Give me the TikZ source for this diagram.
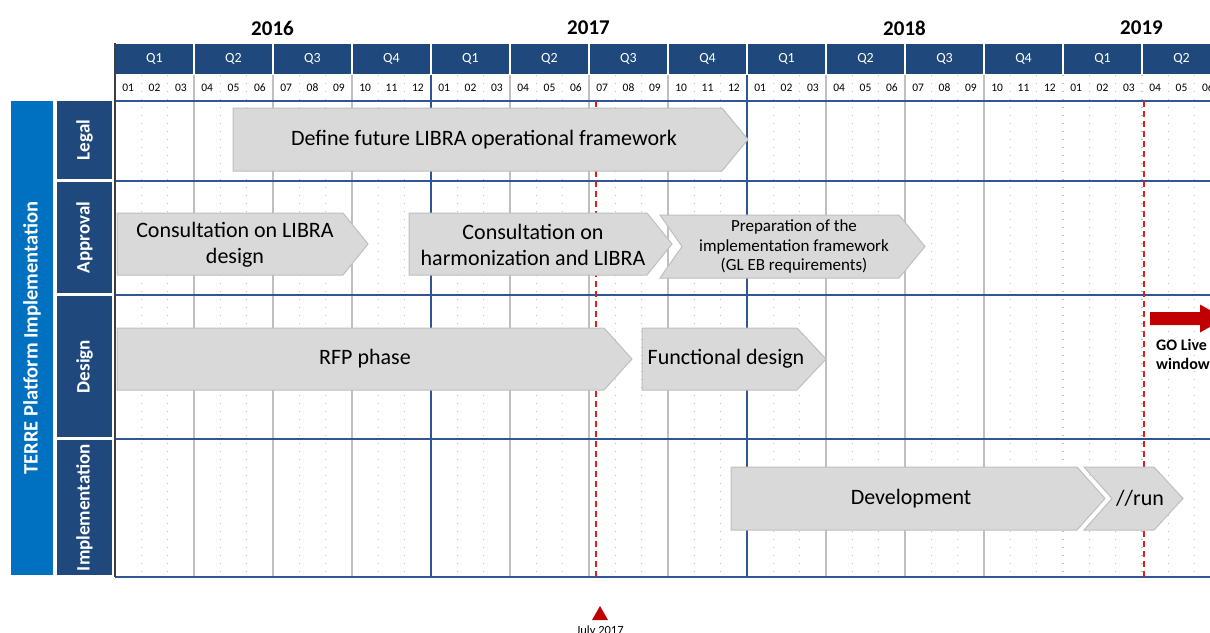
\documentclass[tikz,border=0pt]{standalone}
\usepackage{fontspec}
\setmainfont{Carlito}
\definecolor{hdrblue}{RGB}{31,73,125}
\definecolor{lineblue}{RGB}{47,85,151}
\definecolor{sideblue}{RGB}{0,112,192}
\definecolor{phasegray}{RGB}{217,217,217}
\definecolor{phaseedge}{RGB}{191,191,191}
\definecolor{gridgray}{RGB}{191,191,191}
\definecolor{golive}{RGB}{192,0,0}
\definecolor{markred}{RGB}{222,30,30}

\begin{document}
\begin{tikzpicture}[x=1pt,y=-1pt,
  year/.style={inner sep=0pt,font=\fontsize{21}{25}\selectfont\bfseries},
  quarter/.style={fill=hdrblue,draw=white,line width=1.5pt,text=white,minimum width=79pt,minimum height=32pt,inner sep=0pt,font=\fontsize{14}{16}\selectfont},
  month/.style={minimum width=26.3pt,minimum height=26pt,inner sep=0pt,font=\fontsize{11.5}{13}\selectfont},
  lane/.style={fill=hdrblue,text=white,rotate=90,minimum height=55pt,inner sep=0pt,font=\fontsize{19}{22}\selectfont\bfseries},
  phase/.style={fill=phasegray,draw=phaseedge,line width=1pt},
  phasetext/.style={align=center,inner sep=0pt,font=\fontsize{22}{26}\selectfont},
  monthline/.style={gridgray,line width=1.2pt,dash pattern=on 1.2pt off 6.8pt},
  qline/.style={gridgray,line width=1.5pt},
  rowline/.style={lineblue,line width=2pt},
  marker/.style={markred,line width=1.5pt,dash pattern=on 6pt off 4pt}]
\useasboundingbox (0,0) rectangle (1210,632);

% years and quarters
\node[year] (y2016) at (272.5,28) {2016};
\node[year] (y2017) at (588.5,28) {2017};
\node[year] (y2018) at (904.5,28) {2018};
\node[year] (y2019) at (1141.5,28) {2019};
\foreach \q [count=\i from 0] in {Q1,Q2,Q3,Q4,Q1,Q2,Q3,Q4,Q1,Q2,Q3,Q4,Q1,Q2}
  \node[quarter] (q\i) at ({115+79*\i+39.5},59) {\q};
\foreach \m [evaluate=\m as \n using {int(mod(\m,12)+1)}] in {0,...,41}
  \node[month] (m\m) at ({115+79/3*(\m+0.5)},88) {\ifnum\n<10 0\fi\n};

% grid
\foreach \i in {0,...,13}
  \foreach \k in {1,2}
    \draw[monthline] ({115+79*\i+79/3*\k},75) -- ({115+79*\i+79/3*\k},577);
\foreach \i in {12,13}
  \draw[monthline] ({115+79*\i},75) -- ({115+79*\i},577);
\foreach \i in {1,2,3,5,6,7,9,10,11}
  \draw[qline] ({115+79*\i},75) -- ({115+79*\i},577);
\foreach \i in {4,8}
  \draw[rowline] ({115+79*\i},75) -- ({115+79*\i},577);
\foreach \y in {101,181,295,439,577}
  \draw[rowline] (115,\y) -- (1210,\y);
\draw[darkgray,line width=1.5pt] (115,43) -- (115,577);

% milestones
\draw[marker] (596,101) -- (596,577);
\draw[marker] (1144,101) -- (1144,577);

% Legal
\draw[phase] (233,108) -- (722,108) -- (748,139.5) -- (722,171) -- (233,171) -- cycle;
\node[phasetext] (libra) at (484,139.5) {Define future LIBRA operational framework};
% Approval
\draw[phase] (117,213) -- (343,213) -- (368,244) -- (343,275) -- (117,275) -- cycle;
\node[phasetext] (consult) at (235,245) {Consultation on LIBRA\\design};
\draw[phase] (409,213) -- (647,213) -- (672,244) -- (647,275) -- (409,275) -- cycle;
\node[phasetext] (harmon) at (533,245) {Consultation on\\harmonization and LIBRA};
\draw[phase] (660,215) -- (899,215) -- (925,246.5) -- (899,278) -- (660,278) -- (682,246.5) -- cycle;
\node[phasetext,font=\fontsize{17}{19.5}\selectfont] (prep) at (794,246.5) {Preparation of the\\implementation framework\\(GL EB requirements)};
% Design
\draw[phase] (117,328) -- (604,328) -- (632,359) -- (604,390) -- (117,390) -- cycle;
\node[phasetext] (rfp) at (365,359) {RFP phase};
\draw[phase] (642,328) -- (797,328) -- (826,359) -- (797,390) -- (642,390) -- cycle;
\node[phasetext] (func) at (726,359) {Functional design};
% Implementation
\draw[phase] (731,467) -- (1077,467) -- (1105,498.5) -- (1077,530) -- (731,530) -- cycle;
\node[phasetext] (dev) at (911,498.5) {Development};
\draw[phase] (1084,467) -- (1154,467) -- (1183,498.5) -- (1154,530) -- (1084,530) -- (1112,498.5) -- cycle;
\node[phasetext] (run) at (1140,498.5) {//run};

% lanes
\node[fill=sideblue,text=white,rotate=90,minimum width=474pt,minimum height=42pt,inner sep=0pt,font=\fontsize{20.5}{24}\selectfont\bfseries] (terre) at (32,338) {TERRE Platform Implementation};
\node[lane,minimum width=78pt] (legal) at (84.5,140) {Legal};
\node[lane,minimum width=111pt] (approval) at (84.5,237.5) {Approval};
\node[lane,minimum width=141pt] (design) at (84.5,366.5) {Design};
\node[lane,minimum width=135pt] (impl) at (84.5,507.5) {Implementation};

% go live and july
\coordinate (gl) at (1150,318.5);
\fill[golive] (gl) ++(0,-6.5) -- ++(50,0) -- ++(0,-7.5) -- ++(25,14) -- ++(-25,14) -- ++(0,-7.5) -- ++(-50,0) -- cycle;
\node[anchor=north west,align=left,inner sep=0pt,font=\fontsize{16}{19.5}\selectfont\bfseries] (golivetxt) at (1156,339) {GO Live\\window};
\coordinate (jul) at (600,606);
\fill[golive] (jul) -- ++(8,14) -- ++(-16,0) -- cycle;
\node[anchor=base,inner sep=0pt,font=\fontsize{12.5}{14}\selectfont] (jultxt) at (600,634) {July 2017};
\end{tikzpicture}
\end{document}
